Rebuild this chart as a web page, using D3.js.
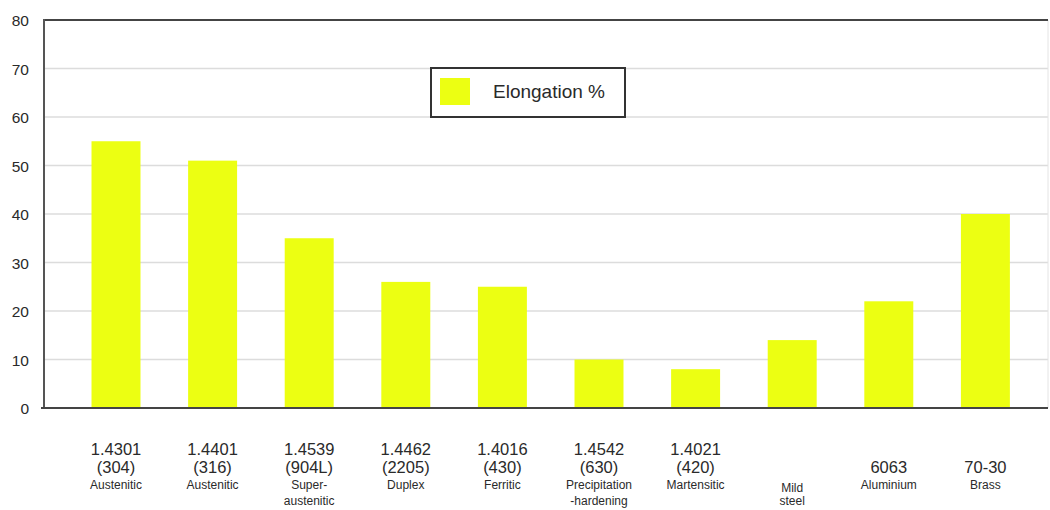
<!DOCTYPE html>
<html>
<head>
<meta charset="utf-8">
<script src="https://cdn.jsdelivr.net/npm/d3@7"></script>
<style>
  html, body { margin: 0; padding: 0; background: #fff; }
  svg { display: block; font-family: "Liberation Sans", Arial, sans-serif; }
</style>
</head>
<body>
<svg id="chart" width="1050" height="510"></svg>
<script>
// ---- data ----
const categories = ["1.4301 (304)", "1.4401 (316)", "1.4539 (904L)", "1.4462 (2205)", "1.4016 (430)",
                    "1.4542 (630)", "1.4021 (420)", "Mild steel", "6063", "70-30"];
const labelLine1 = ["1.4301", "1.4401", "1.4539", "1.4462", "1.4016", "1.4542", "1.4021", "", "", ""];
const labelLine2 = ["(304)", "(316)", "(904L)", "(2205)", "(430)", "(630)", "(420)", "", "6063", "70-30"];
const labelLine3 = ["Austenitic", "Austenitic", "Super-", "Duplex", "Ferritic", "Precipitation", "Martensitic", "Mild", "Aluminium", "Brass"];
const labelLine4 = ["", "", "austenitic", "", "", "-hardening", "", "steel", "", ""];
const elongation = [55, 51, 35, 26, 25, 10, 8, 14, 22, 40];
const yTicks = [0, 10, 20, 30, 40, 50, 60, 70, 80];
const seriesName = "Elongation %";

// ---- layout ----
const svg = d3.select("#chart");
const plotLeft = 44, plotRight = 1048, plotTop = 20, plotBottom = 408;
const barColor = "#ecff12";
const textColor = "#2a2a2a";

const x = d3.scaleBand()
  .domain(categories)
  .range([67.7, 1033.7])
  .paddingInner(0.493)
  .paddingOuter(0.2465);

const y = d3.scaleLinear().domain([0, 80]).range([plotBottom, plotTop]);

// gridlines
svg.append("g")
  .selectAll("line")
  .data(yTicks.filter(d => d > 0 && d < 80))
  .join("line")
  .attr("x1", plotLeft).attr("x2", plotRight)
  .attr("y1", d => y(d)).attr("y2", d => y(d))
  .attr("stroke", "#dcdcdc").attr("stroke-width", 1.5);

// right faint border
svg.append("line")
  .attr("x1", plotRight).attr("x2", plotRight)
  .attr("y1", plotTop).attr("y2", plotBottom)
  .attr("stroke", "#e4e4e4").attr("stroke-width", 1);

// bars
svg.append("g")
  .selectAll("rect")
  .data(elongation)
  .join("rect")
  .attr("x", (d, i) => x(categories[i]))
  .attr("width", x.bandwidth())
  .attr("y", d => y(d))
  .attr("height", d => y(0) - y(d))
  .attr("fill", barColor);

// y axis with d3 axis (labels only)
const yAxis = d3.axisLeft(y).tickValues(yTicks).tickSize(0).tickPadding(0);
const yG = svg.append("g").attr("transform", `translate(29,0)`).call(yAxis);
yG.select(".domain").remove();
yG.selectAll("text")
  .attr("font-size", 15.5)
  .attr("font-family", "Liberation Sans, Arial, sans-serif")
  .attr("fill", textColor)
  .attr("dy", "0.36em");

// axis frame lines
svg.append("line")
  .attr("x1", plotLeft).attr("x2", plotRight)
  .attr("y1", plotTop).attr("y2", plotTop)
  .attr("stroke", "#444").attr("stroke-width", 2);
svg.append("line")
  .attr("x1", plotLeft).attr("x2", plotLeft)
  .attr("y1", plotTop - 1).attr("y2", plotBottom + 1)
  .attr("stroke", "#555").attr("stroke-width", 2);
svg.append("line")
  .attr("x1", plotLeft - 3).attr("x2", plotRight)
  .attr("y1", plotBottom).attr("y2", plotBottom)
  .attr("stroke", "#444").attr("stroke-width", 2);

// category labels
const labG = svg.append("g").attr("fill", textColor).attr("text-anchor", "middle");
categories.forEach((c, i) => {
  const cx = x(c) + x.bandwidth() / 2;
  const shift = (labelLine1[i] === "" && labelLine2[i] === "") ? 3 : 0;
  const shift4 = (labelLine1[i] === "" && labelLine2[i] === "") ? 0 : 0;
  if (labelLine1[i]) labG.append("text").attr("x", cx).attr("y", 455).attr("font-size", 16.5).text(labelLine1[i]);
  if (labelLine2[i]) labG.append("text").attr("x", cx).attr("y", 473).attr("font-size", 16.5).text(labelLine2[i]);
  if (labelLine3[i]) labG.append("text").attr("x", cx).attr("y", 489 + shift).attr("font-size", 12).text(labelLine3[i]);
  if (labelLine4[i]) labG.append("text").attr("x", cx).attr("y", 505 + shift4).attr("font-size", 12).text(labelLine4[i]);
});

// legend
const lg = svg.append("g");
lg.append("rect")
  .attr("x", 431).attr("y", 68).attr("width", 194).attr("height", 49)
  .attr("fill", "#fff").attr("stroke", "#333").attr("stroke-width", 2);
lg.append("rect")
  .attr("x", 440).attr("y", 78).attr("width", 30).attr("height", 27)
  .attr("fill", barColor);
lg.append("text")
  .attr("x", 493).attr("y", 98)
  .attr("font-size", 19).attr("fill", textColor)
  .text(seriesName);
</script>
</body>
</html>
